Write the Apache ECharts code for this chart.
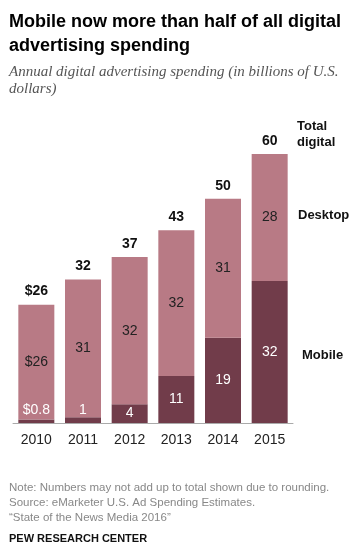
<!DOCTYPE html>
<html><head><meta charset="utf-8">
<script src="https://cdn.jsdelivr.net/npm/echarts@6/dist/echarts.min.js"></script>
<style>html,body{margin:0;padding:0;background:#fff}#c{width:358px;height:554px}</style>
</head><body><div id="c"></div>
<script>
var years = ['2010','2011','2012','2013','2014','2015'];
var mobile = [0.8, 1.3, 4.2, 10.5, 19, 31.7];
var desktop = [25.6, 30.7, 32.8, 32.5, 31, 28.3];
var mobileLabels = ['$0.8','1','4','11','19','32'];
var desktopLabels = ['$26','31','32','32','31','28'];
var totalLabels = ['$26','32','37','43','50','60'];

var chart = echarts.init(document.getElementById('c'));
var baseFont = '"Liberation Sans", Arial, sans-serif';
var mobileData = mobile.map(function(v,i){
  var d = {value:v};
  if (v < 2) d.label = {position:'top', distance: i===0 ? 2 : 0};
  return d;
});
chart.setOption({
  animation:false,
  grid:{left:13, right:65, top:154, bottom:131},
  xAxis:{type:'category', data:years,
    axisLine:{lineStyle:{color:'#aaa', width:1}}, axisTick:{show:false},
    axisLabel:{color:'#222', fontSize:14, fontFamily:baseFont, margin:10}},
  yAxis:{type:'value', min:0, max:60, show:false, splitLine:{show:false}},
  series:[
    {name:'Mobile', type:'bar', stack:'a', barWidth:36, data:mobileData,
      itemStyle:{color:'#713c4a'},
      label:{show:true, position:'inside', color:'#fff', fontSize:14, fontFamily:baseFont,
        formatter:function(p){return mobileLabels[p.dataIndex];}}},
    {name:'Desktop', type:'bar', stack:'a', barWidth:36, data:desktop,
      itemStyle:{color:'#b87a85'},
      label:{show:true, position:'inside', color:'#222', fontSize:14, fontFamily:baseFont,
        formatter:function(p){return desktopLabels[p.dataIndex];}}},
    {name:'Total', type:'bar', stack:'a', barWidth:36, data:years.map(function(){return 0;}),
      itemStyle:{color:'transparent'},
      label:{show:true, position:'top', distance:6, color:'#111', fontSize:14, fontWeight:'bold', fontFamily:baseFont,
        formatter:function(p){return totalLabels[p.dataIndex];}}}
  ],
  graphic:[
    {type:'text', left:9, top:10, style:{text:'Mobile now more than half of all digital\nadvertising spending', font:'bold 18px "Liberation Sans", Arial, sans-serif', fill:'#000', lineHeight:24}},
    {type:'text', left:9, top:64, style:{text:'Annual digital advertising spending (in billions of U.S.\ndollars)', font:'italic 15px "Liberation Serif", Georgia, serif', fill:'#555', lineHeight:17}},
    {type:'text', left:9, top:480, style:{text:'Note: Numbers may not add up to total shown due to rounding.\nSource: eMarketer U.S. Ad Spending Estimates.\n\u201cState of the News Media 2016\u201d', font:'11.5px "Liberation Sans", Arial, sans-serif', fill:'#888', lineHeight:15}},
    {type:'text', left:9, top:533, style:{text:'PEW RESEARCH CENTER', font:'bold 11px "Liberation Sans", Arial, sans-serif', fill:'#111'}},
    {type:'text', left:297, top:118, style:{text:'Total\ndigital', font:'bold 13px "Liberation Sans", Arial, sans-serif', fill:'#111', lineHeight:16}},
    {type:'text', left:298, top:209, style:{text:'Desktop', font:'bold 13px "Liberation Sans", Arial, sans-serif', fill:'#111'}},
    {type:'text', left:302, top:349, style:{text:'Mobile', font:'bold 13px "Liberation Sans", Arial, sans-serif', fill:'#111'}}
  ]
});
</script></body></html>
